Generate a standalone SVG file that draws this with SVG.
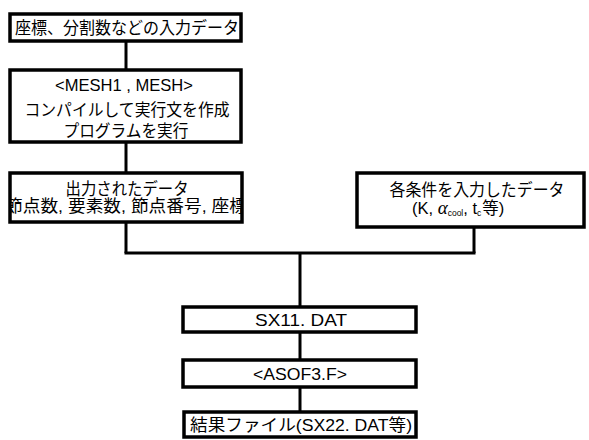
<svg xmlns="http://www.w3.org/2000/svg" width="589" height="440" viewBox="0 0 589 440">
<style>
.box{fill:#fff;stroke:#000;stroke-width:3.5}
.ln{stroke:#000;stroke-width:3;fill:none}
text{font-family:"Liberation Sans","Noto Sans CJK JP",sans-serif;font-size:16.5px;fill:#000;text-anchor:middle}
</style>
<defs>
<clipPath id="c3"><rect x="11" y="175" width="230" height="46"/></clipPath>
</defs>
<rect width="589" height="440" fill="#fff"/>
<g id="connectors">
<line class="ln" x1="126" y1="41" x2="126" y2="70"/>
<line class="ln" x1="126" y1="142" x2="126" y2="173"/>
<line class="ln" x1="126" y1="222" x2="126" y2="253"/>
<line class="ln" x1="474" y1="227" x2="474" y2="253"/>
<line class="ln" x1="124.5" y1="253" x2="475.5" y2="253"/>
<line class="ln" x1="300" y1="253" x2="300" y2="307"/>
<line class="ln" x1="300" y1="332" x2="300" y2="360"/>
<line class="ln" x1="300" y1="387" x2="300" y2="412"/>
</g>
<g id="n1">
<rect class="box" x="10" y="14" width="231" height="27"/>
<text x="127" y="34" textLength="224" lengthAdjust="spacingAndGlyphs">座標、分割数などの入力データ</text>
</g>
<g id="n2">
<rect class="box" x="10" y="70" width="231" height="72"/>
<text x="124" y="91" textLength="138" lengthAdjust="spacingAndGlyphs">&lt;MESH1 , MESH&gt;</text>
<text x="127" y="116" textLength="205" lengthAdjust="spacingAndGlyphs">コンパイルして実行文を作成</text>
<text x="126" y="137" textLength="125" lengthAdjust="spacingAndGlyphs">プログラムを実行</text>
</g>
<g id="n3">
<rect class="box" x="10" y="173" width="232" height="49"/>
<text x="127" y="195" textLength="123" lengthAdjust="spacingAndGlyphs">出力されたデータ</text>
<g clip-path="url(#c3)">
<text x="126" y="212" textLength="242" lengthAdjust="spacingAndGlyphs">節点数, 要素数, 節点番号, 座標</text>
</g>
</g>
<g id="n4">
<rect class="box" x="357" y="173" width="227" height="54"/>
<text x="477" y="196" textLength="175" lengthAdjust="spacingAndGlyphs">各条件を入力したデータ</text>
<text x="412" y="214" style="text-anchor:start">(K,  <tspan font-style="italic" font-size="19" font-family="Liberation Serif, serif">α</tspan><tspan font-size="8.5" dy="2">cool</tspan><tspan dy="-2">,  t</tspan><tspan font-size="8.5" dy="2">c</tspan><tspan dy="-2" dx="1">等)</tspan></text>
</g>
<g id="n5">
<rect class="box" x="183" y="307" width="233" height="25"/>
<text x="301" y="326" textLength="92" lengthAdjust="spacingAndGlyphs">SX11. DAT</text>
</g>
<g id="n6">
<rect class="box" x="183" y="360" width="233" height="27"/>
<text x="300" y="380" textLength="94" lengthAdjust="spacingAndGlyphs">&lt;ASOF3.F&gt;</text>
</g>
<g id="n7">
<rect class="box" x="184" y="412" width="232" height="25"/>
<text x="301" y="431" textLength="222" lengthAdjust="spacingAndGlyphs">結果ファイル(SX22. DAT等)</text>
</g>
</svg>
